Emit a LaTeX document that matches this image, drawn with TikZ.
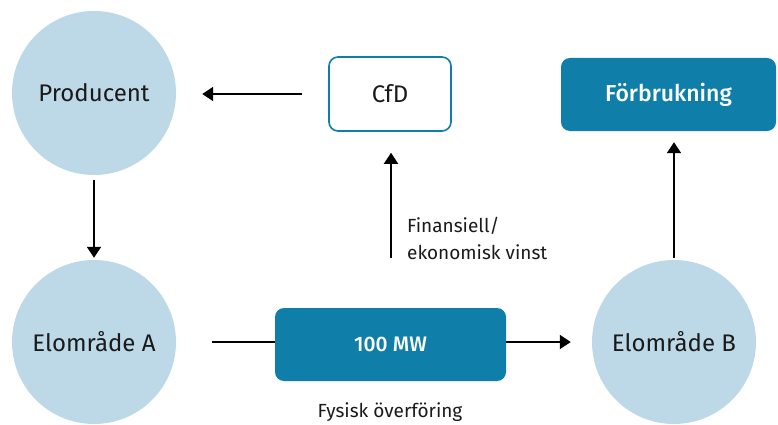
\documentclass[tikz,border=0pt]{standalone}
\usepackage{fontspec}
\setmainfont{Fira Sans}
\newfontfamily\medfont{Fira Sans Medium}
\usetikzlibrary{arrows.meta}
\definecolor{circfill}{HTML}{BDD9E7}
\definecolor{boxblue}{HTML}{0F7EA8}
\definecolor{txt}{HTML}{1A1A1A}
\tikzset{
  x=1pt, y=-1pt,
  circ/.style={circle, fill=circfill, minimum size=164pt, inner sep=0pt, text=txt, font=\fontsize{24}{28}\selectfont},
  darkbox/.style={rectangle, rounded corners=9pt, fill=boxblue, text=white, inner sep=0pt, font=\medfont\fontsize{23}{27}\selectfont},
  lightbox/.style={rectangle, rounded corners=9pt, draw=boxblue, line width=1.6pt, fill=white, text=txt, inner sep=0pt, font=\fontsize{24}{28}\selectfont},
  lbl/.style={text=txt, font=\fontsize{19}{27}\selectfont, inner sep=0pt},
  arr/.style={draw=black, line width=2pt, -{Triangle[length=11pt,width=14pt]}},
  plainline/.style={draw=black, line width=2pt}
}
\begin{document}
\begin{tikzpicture}
\useasboundingbox (0,0) rectangle (778,425);
\node[circ] (prod) at (94,93) {Producent};
\node[circ] (elA) at (94,342) {Elområde A};
\node[circ] (elB) at (674,342) {Elområde B};
\node[lightbox, minimum width=122pt, minimum height=74pt] (cfd) at (390,94) {CfD};
\node[darkbox, minimum width=215pt, minimum height=73pt] (forb) at (668.5,94.5) {Förbrukning};
\node[darkbox, minimum width=231pt, minimum height=73pt, font=\medfont\fontsize{21}{24}\selectfont] (mw) at (390.5,344.5) {100 MW};
\node[lbl] (fys) at (390,412) {Fysisk överföring};
\node[lbl, anchor=west, align=left] (fin) at (407,238) {Finansiell/\\ekonomisk vinst};
\coordinate (finstart) at (391,258);
\draw[arr, shorten <=26pt, shorten >=26pt] (cfd.west) -- (prod.east |- cfd.west);
\draw[arr, shorten <=5pt, shorten >=2pt] (prod.south) -- (elA.north);
\draw[plainline, shorten <=36pt] (elA.east) -- (mw.west |- elA.east);
\draw[arr, shorten >=21pt] (mw.east |- elA.east) -- (elB.west);
\draw[arr, shorten >=21pt] (finstart) -- (finstart |- cfd.south);
\draw[arr, shorten <=2pt, shorten >=11pt] (elB.north) -- (elB.north |- forb.south);
\end{tikzpicture}
\end{document}
